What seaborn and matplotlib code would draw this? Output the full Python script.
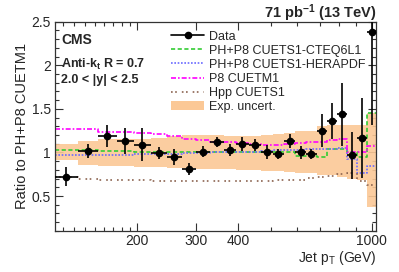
"""Ratio of jet pT spectra to PH+P8 CUETM1, 2.0 < |y| < 2.5."""
import numpy as np
import pandas as pd
import matplotlib
matplotlib.use('Agg')
import matplotlib.pyplot as plt
import matplotlib.ticker as mticker
from matplotlib.patches import Patch
from matplotlib.lines import Line2D
import seaborn as sns

# bin edges (GeV)
edges = [114, 133, 153, 174, 196, 220, 245, 272, 300, 330, 362, 395, 430,
         468, 507, 548, 592, 638, 686, 737, 790, 846, 905, 967, 1032]

# data / theory ratio and stat. errors
data = [0.72, 1.02, 1.19, 1.13, 1.09, 0.99, 0.95, 0.81, 1.01, 1.12, 1.03, 1.10,
        1.09, 1.01, 0.98, 1.13, 1.00, 0.98, 1.25, 1.36, 1.44, 0.97, 1.17, 2.38]
data_err = [0.11, 0.08, 0.13, 0.15, 0.19, 0.07, 0.09, 0.07, 0.06, 0.06, 0.07, 0.08,
            0.07, 0.08, 0.06, 0.08, 0.07, 0.06, 0.19, 0.21, 0.36, 0.27, 0.46, 1.06]

# experimental uncertainty band
unc_hi = [1.10, 1.13, 1.16, 1.16, 1.16, 1.17, 1.19, 1.20, 1.20, 1.20, 1.19, 1.19,
          1.19, 1.20, 1.21, 1.22, 1.25, 1.25, 1.30, 1.31, 1.31, 1.31, 1.31, 1.45]
unc_lo = [0.91, 0.86, 0.84, 0.84, 0.83, 0.83, 0.82, 0.82, 0.81, 0.81, 0.81, 0.80,
          0.80, 0.79, 0.79, 0.78, 0.76, 0.76, 0.74, 0.74, 0.72, 0.70, 0.69, 0.38]

# MC predictions
cteq = [1.03, 1.03, 1.02, 1.02, 1.01, 1.01, 1.01, 1.00, 1.00, 1.00, 1.01, 1.01,
        1.01, 1.01, 1.01, 1.01, 0.96, 0.96, 0.95, 1.04, 1.04, 1.01, 0.95, 1.45]
hera = [0.97, 0.97, 0.97, 0.97, 0.98, 0.98, 0.98, 0.99, 0.99, 1.00, 1.00, 1.01,
        1.01, 1.02, 1.03, 1.03, 1.03, 1.04, 1.04, 1.04, 1.05, 0.92, 0.77, 0.85]
cuetm1 = [1.27, 1.27, 1.24, 1.23, 1.22, 1.21, 1.19, 1.16, 1.14, 1.12, 1.12, 1.11,
          1.10, 1.09, 1.09, 1.10, 1.11, 1.12, 1.12, 1.14, 1.16, 1.00, 1.00, 1.07]
hpp = [0.72, 0.70, 0.69, 0.68, 0.68, 0.67, 0.67, 0.67, 0.67, 0.67, 0.67, 0.67,
       0.67, 0.67, 0.68, 0.68, 0.69, 0.71, 0.72, 0.73, 0.75, 0.76, 0.67, 0.63]

sns.set_style('ticks')
plt.rcParams['font.family'] = ['Liberation Sans', 'DejaVu Sans']
plt.rcParams['mathtext.fontset'] = 'custom'
plt.rcParams['mathtext.rm'] = 'Liberation Sans'
plt.rcParams['mathtext.bf'] = 'Liberation Sans:bold'
plt.rcParams['mathtext.it'] = 'Liberation Sans:italic'

edges_a = np.array(edges, dtype=float)
centers = np.sqrt(edges_a[:-1] * edges_a[1:])
xlo = centers - edges_a[:-1]
xhi = edges_a[1:] - centers

fig = plt.figure(figsize=(3.99, 2.72), dpi=100)
ax = fig.add_axes([0.138, 0.151, 0.805, 0.769])

band_col = '#fbc896'
ax.stairs(unc_hi, edges, baseline=unc_lo, fill=True, color=band_col, alpha=0.9,
          linewidth=0)

styles = [
    ('PH+P8 CUETS1-CTEQ6L1', cteq, '#33cc33', (0, (2.5, 1.5))),
    ('PH+P8 CUETS1-HERAPDF', hera, '#6a6aff', (0, (1, 1))),
    ('P8 CUETM1', cuetm1, '#ff00ff', (0, (3, 1.2, 1, 1.2))),
    ('Hpp CUETS1', hpp, '#8c6450', (0, (1, 1.5, 1, 3))),
]
for name, vals, col, ls in styles:
    df = pd.DataFrame({'pt': edges, 'ratio': list(vals) + [vals[-1]]})
    sns.lineplot(data=df, x='pt', y='ratio', ax=ax, color=col, linestyle=ls,
                 linewidth=1.2, drawstyle='steps-post', sort=False, estimator=None)

ax.errorbar(centers, data, yerr=data_err, xerr=[xlo, xhi], fmt='o', color='black',
            markersize=4.5, elinewidth=1.2, capsize=0, zorder=5)

ax.set_xscale('log')
ax.set_xlim(114, 1032)
ax.set_ylim(0.1, 2.5)
ax.xaxis.set_major_locator(mticker.FixedLocator([200, 300, 400, 1000]))
ax.xaxis.set_major_formatter(mticker.FixedFormatter(['200', '300', '400', '1000']))
ax.xaxis.set_minor_locator(mticker.FixedLocator([120, 130, 140, 150, 160, 170, 180, 190,
                                                 500, 600, 700, 800, 900]))
ax.xaxis.set_minor_formatter(mticker.NullFormatter())
ax.yaxis.set_major_locator(mticker.FixedLocator([0.5, 1, 1.5, 2, 2.5]))
ax.yaxis.set_major_formatter(mticker.FixedFormatter(['0.5', '1', '1.5', '2', '2.5']))
ax.yaxis.set_minor_locator(mticker.MultipleLocator(0.1))
ax.tick_params(which='both', direction='in', top=True, right=True, labelsize=10,
               width=0.8, color='#333333', pad=3)
ax.tick_params(axis='x', pad=2)
ax.tick_params(which='major', length=6)
ax.tick_params(which='minor', length=3)
for s in ax.spines.values():
    s.set_linewidth(0.9)
    s.set_color('#333333')

ax.set_ylabel('Ratio to PH+P8 CUETM1', fontsize=10.5, labelpad=2)
ax.set_xlabel('')
fig.text(0.943, 0.035, r'Jet p$_\mathregular{T}$ (GeV)', ha='right', va='baseline',
         fontsize=10)

ax.text(0.02, 0.915, 'CMS', transform=ax.transAxes, fontsize=10, fontweight='bold',
        va='center')
ax.text(0.02, 0.795, r'Anti-k$_\mathbf{t}$ R = 0.7', transform=ax.transAxes,
        fontsize=9, fontweight='bold', va='center')
ax.text(0.02, 0.72, '2.0 < |y| < 2.5', transform=ax.transAxes, fontsize=9,
        fontweight='bold', va='center')
fig.text(0.943, 0.935, r'71 pb$^{\mathbf{-1}}$ (13 TeV)', ha='right', va='baseline',
         fontsize=10.5, fontweight='bold')

handles = [Line2D([0], [0], color='black', marker='o', markersize=4.5, linewidth=1.2)]
labels = ['Data']
for name, vals, col, ls in styles:
    handles.append(Line2D([0], [0], color=col, linestyle=ls, linewidth=1.2))
    labels.append(name)
handles.append(Patch(facecolor=band_col, edgecolor='none'))
labels.append('Exp. uncert.')
ax.legend(handles, labels, loc='upper left', bbox_to_anchor=(0.335, 1.0),
          frameon=False, fontsize=9, handlelength=2.6, handletextpad=0.4,
          labelspacing=0.17, borderaxespad=0.3)

fig.savefig('out.png', dpi=100)
